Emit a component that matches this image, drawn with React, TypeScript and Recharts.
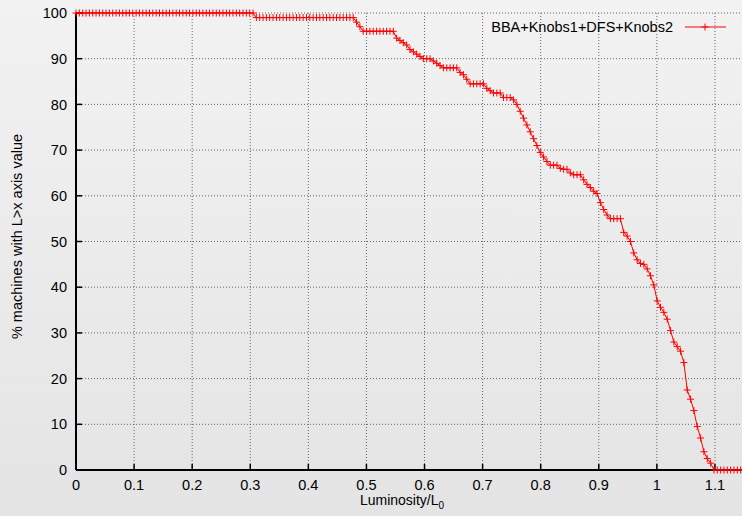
import { LineChart, Line, XAxis, YAxis, CartesianGrid, Legend, Label } from "recharts";

// sampling step on the luminosity axis (200 samples over 0..1.15)
const X_STEP = 0.00575;

// % of machines with L > x, one value per sample
const machinesAbove = [
  100, 100, 100, 100, 100, 100, 100, 100, 100, 100,
  100, 100, 100, 100, 100, 100, 100, 100, 100, 100,
  100, 100, 100, 100, 100, 100, 100, 100, 100, 100,
  100, 100, 100, 100, 100, 100, 100, 100, 100, 100,
  100, 100, 100, 100, 100, 100, 100, 100, 100, 100,
  100, 100, 100, 100, 99, 99, 99, 99, 99, 99,
  99, 99, 99, 99, 99, 99, 99, 99, 99, 99,
  99, 99, 99, 99, 99, 99, 99, 99, 99, 99,
  99, 99, 99, 99, 98, 97, 96, 96, 96, 96,
  96, 96, 96, 96, 96, 96, 94.5, 94, 93.5, 93,
  92, 91.5, 91, 90.5, 90, 90, 90, 89.5, 89, 88.5,
  88, 88, 88, 88, 88, 87, 86.5, 85.5, 84.5, 84.5,
  84.5, 84.5, 84.5, 83.5, 83, 82.5, 82.5, 82.5, 81.5, 81.5,
  81.5, 81, 80, 78.5, 77, 75.5, 74, 72.5, 71, 69.5,
  68.5, 67.5, 66.7, 66.7, 66.7, 66, 65.8, 65.8, 65, 64.6,
  64.6, 64.6, 63.5, 62.5, 61.8, 61, 60.5, 58.5, 57, 55.8,
  55, 55, 55, 55, 52, 51.2, 50, 47.5, 46, 45.2,
  45, 44, 42.5, 40.5, 37, 35.6, 34.5, 33, 30.5, 28,
  27, 26, 23.5, 17.5, 15.5, 13, 9.5, 7, 4, 2.5,
  1.5, 0, 0, 0, 0, 0, 0, 0, 0, 0,
  0,
];

const xTicks = [0, 0.1, 0.2, 0.3, 0.4, 0.5, 0.6, 0.7, 0.8, 0.9, 1, 1.1];
const yTicks = [0, 10, 20, 30, 40, 50, 60, 70, 80, 90, 100];
const seriesName = "BBA+Knobs1+DFS+Knobs2";

const data = machinesAbove.map((pct, i) => ({
  lum: Number((i * X_STEP).toFixed(5)),
  pct,
}));

const FONT = '"Liberation Sans", Arial, Helvetica, sans-serif';
const RED = "#ff0000";

function Plus(props: any) {
  const { cx, cy, index } = props;
  if (cx == null || cy == null) return <g key={index} />;
  return (
    <path
      key={index}
      d={`M${cx - 3.5},${cy}h7M${cx},${cy - 3.5}v7`}
      stroke={RED}
      strokeWidth={1}
      fill="none"
    />
  );
}

function LegendBox() {
  return (
    <svg width={742} height={40} style={{ display: "block" }}>
      <text x={673} y={32} textAnchor="end" fontSize={14.5} fontFamily={FONT} fill="#000">
        {seriesName}
      </text>
      <line x1={685} x2={726} y1={27} y2={27} stroke={RED} />
      <path d="M701.5,27h7M705,23.5v7" stroke={RED} fill="none" />
    </svg>
  );
}

function XLabel(props: any) {
  const vb = props.viewBox;
  const cx = vb.x + vb.width / 2 - 8;
  return (
    <text x={cx} y={vb.y + 35} textAnchor="middle" fontSize={14} fontFamily={FONT} fill="#000">
      Luminosity/L
      <tspan fontSize={10} dy={4}>0</tspan>
    </text>
  );
}

function YLabel(props: any) {
  const vb = props.viewBox;
  const x = 21.5;
  const cy = vb.y + vb.height / 2 - 5;
  return (
    <text
      x={x}
      y={cy}
      transform={`rotate(-90, ${x}, ${cy})`}
      textAnchor="middle"
      fontSize={14.5}
      fontFamily={FONT}
      fill="#000"
    >
      % machines with L&gt;x axis value
    </text>
  );
}

const tickStyle = { fill: "#000", fontSize: 14.5, fontFamily: FONT };

export default function App() {
  return (
    <div
      style={{
        position: "absolute",
        left: 0,
        top: 0,
        width: 742,
        height: 516,
        overflow: "hidden",
        background: "linear-gradient(to bottom, #f2f2f2, #e4e4e4)",
      }}
    >
      <LineChart
        width={760}
        height={516}
        data={data}
        margin={{ top: 13, right: 16, bottom: 0, left: 0 }}
      >
        <CartesianGrid stroke="#666" strokeDasharray="1 2" />
        <XAxis
          dataKey="lum"
          type="number"
          domain={[0, 1.15]}
          ticks={xTicks}
          height={46}
          tickSize={-6}
          tickMargin={16}
          tick={tickStyle}
          axisLine={{ stroke: "#000", strokeWidth: 2 }}
          tickLine={{ stroke: "#000", strokeWidth: 1.5 }}
        >
          <Label content={XLabel} />
        </XAxis>
        <XAxis
          xAxisId="top"
          orientation="top"
          dataKey="lum"
          type="number"
          domain={[0, 1.15]}
          ticks={xTicks}
          height={0}
          tickSize={-6}
          tick={false}
          axisLine={{ stroke: "#000", strokeWidth: 1.5 }}
          tickLine={{ stroke: "#000", strokeWidth: 1.5 }}
        />
        <YAxis
          type="number"
          domain={[0, 100]}
          ticks={yTicks}
          width={76}
          tickSize={-6}
          tickMargin={15}
          tick={tickStyle}
          axisLine={{ stroke: "#000", strokeWidth: 2 }}
          tickLine={{ stroke: "#000", strokeWidth: 1.5 }}
        >
          <Label content={YLabel} />
        </YAxis>
        <Legend
          layout="horizontal"
          verticalAlign="middle"
          align="center"
          content={LegendBox}
          wrapperStyle={{ top: 0, left: 0, width: 742, height: 40 }}
        />
        <Line
          type="linear"
          dataKey="pct"
          name={seriesName}
          stroke={RED}
          strokeWidth={1}
          dot={Plus}
          activeDot={false}
          isAnimationActive={false}
        />
      </LineChart>
    </div>
  );
}
